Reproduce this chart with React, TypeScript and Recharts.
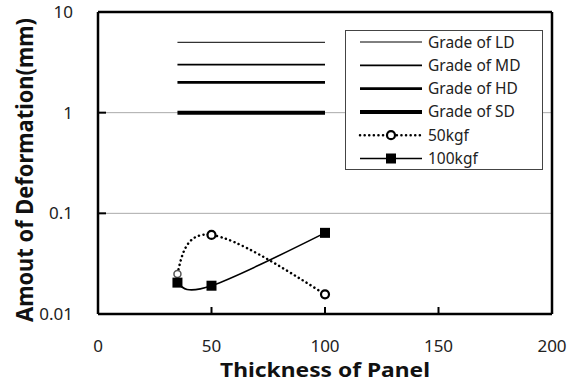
import { LineChart, Line, XAxis, YAxis, CartesianGrid, Legend, ReferenceLine } from "recharts"

// thickness of panel (x)
const gradeX = [35, 100]
const testX = [35, 50, 100]

// grade limits (mm)
const gradeLD = [5, 5]
const gradeMD = [3, 3]
const gradeHD = [2, 2]
const gradeSD = [1, 1]

// measured deformation (mm)
const load50 = [0.025, 0.061, 0.0157]
const load100 = [0.0205, 0.0191, 0.064]

const xTicks = [0, 50, 100, 150, 200]
const yTicks = [0.01, 0.1, 1, 10]

const toPoints = (xs: number[], ys: number[]) => xs.map((x, i) => ({ x, y: ys[i] }))

const FONT = "'Noto Sans', 'Open Sans', sans-serif"

const grades = [
  { name: "Grade of LD", values: gradeLD, width: 1 },
  { name: "Grade of MD", values: gradeMD, width: 1.7 },
  { name: "Grade of HD", values: gradeHD, width: 2.6 },
  { name: "Grade of SD", values: gradeSD, width: 4 },
]

const XTick = (props: any) => {
  const { x, y, payload } = props
  const v = payload.value
  return (
    <g>
      {v > 0 && v < 200 && <line x1={x} x2={x} y1={y} y2={y - 7} stroke="#000" strokeWidth={2} />}
      <text x={x} y={y + 38} textAnchor="middle" fontSize={17} fontFamily={FONT} fill="#222">
        {v}
      </text>
    </g>
  )
}

const YTick = (props: any) => {
  const { x, y, payload } = props
  const v = payload.value
  return (
    <g>
      {v > 0.01 && v < 10 && <line x1={x} x2={x + 8} y1={y} y2={y} stroke="#000" strokeWidth={2} />}
      <text x={x - 25} y={y + 6} textAnchor="end" fontSize={17} fontFamily={FONT} fill="#222">
        {v}
      </text>
    </g>
  )
}

const Square = (props: any) => {
  const { cx, cy } = props
  if (cx == null || cy == null) return null
  return <rect x={cx - 5} y={cy - 5} width={10} height={10} fill="#000" />
}

const Circle = (props: any) => {
  const { cx, cy, index } = props
  if (cx == null || cy == null) return null
  return (
    <circle
      cx={cx}
      cy={cy}
      r={index === 0 ? 3.5 : 4}
      fill="#fff"
      stroke={index === 0 ? "#555" : "#000"}
      strokeWidth={index === 0 ? 1.5 : 2.2}
    />
  )
}

const LegendBox = () => {
  const rowH = 23.3
  return (
    <svg width={198} height={140} style={{ display: "block" }}>
      <rect x={0.5} y={0.5} width={197} height={139} fill="#fff" stroke="#444" strokeWidth={1} />
      {grades.map((g, i) => (
        <g key={g.name}>
          <line x1={15} x2={77} y1={12 + i * rowH} y2={12 + i * rowH} stroke="#000" strokeWidth={g.width} />
          <text x={83} y={12 + i * rowH + 5.5} fontSize={15.5} fontFamily={FONT} fill="#222">
            {g.name}
          </text>
        </g>
      ))}
      <line x1={15} x2={77} y1={12 + 4 * rowH} y2={12 + 4 * rowH} stroke="#000" strokeWidth={2.5} strokeDasharray="0.1 4.5" strokeLinecap="round" />
      <circle cx={46} cy={12 + 4 * rowH} r={4} fill="#fff" stroke="#000" strokeWidth={2.2} />
      <text x={83} y={12 + 4 * rowH + 5.5} fontSize={15.5} fontFamily={FONT} fill="#222">50kgf</text>
      <line x1={15} x2={77} y1={12 + 5 * rowH} y2={12 + 5 * rowH} stroke="#000" strokeWidth={1.5} />
      <rect x={41} y={12 + 5 * rowH - 5} width={10} height={10} fill="#000" />
      <text x={83} y={12 + 5 * rowH + 5.5} fontSize={15.5} fontFamily={FONT} fill="#222">100kgf</text>
    </svg>
  )
}

export default function App() {
  return (
    <div style={{ position: "absolute", left: 0, top: 0, width: 579, height: 383, background: "#fff" }}>
      <LineChart width={579} height={383} margin={{ top: 12, right: 27, bottom: 0, left: 0 }}>
        <CartesianGrid horizontal vertical={false} stroke="#aaa" strokeWidth={1} />
        <XAxis
          type="number"
          dataKey="x"
          domain={[0, 200]}
          ticks={xTicks}
          height={69}
          tickSize={0}
          tickMargin={0}
          tick={<XTick />}
          axisLine={{ stroke: "#000", strokeWidth: 2.5 }}
          allowDataOverflow
          label={() => (
            <text x={325} y={377} textAnchor="middle" fontSize={20} fontWeight="bold" fontFamily={FONT} fill="#111" textLength={210} lengthAdjust="spacingAndGlyphs">
              Thickness of Panel
            </text>
          )}
        />
        <YAxis
          type="number"
          dataKey="y"
          scale="log"
          domain={[0.01, 10]}
          ticks={yTicks}
          width={98}
          tickSize={0}
          tickMargin={0}
          tick={<YTick />}
          axisLine={{ stroke: "#000", strokeWidth: 2.5 }}
          allowDataOverflow
          label={() => (
            <text x={33} y={170} transform="rotate(-90 33 170)" textAnchor="middle" fontSize={23} fontWeight="bold" fontFamily={FONT} fill="#111" textLength={304} lengthAdjust="spacingAndGlyphs">
              Amout of Deformation(mm)
            </text>
          )}
        />
        <ReferenceLine y={10} stroke="#000" strokeWidth={2.5} />
        <ReferenceLine x={200} stroke="#000" strokeWidth={2.5} />
        {grades.map((g) => (
          <Line
            key={g.name}
            data={toPoints(gradeX, g.values)}
            dataKey="y"
            name={g.name}
            stroke="#000"
            strokeWidth={g.width}
            dot={false}
            isAnimationActive={false}
          />
        ))}
        <Line
          data={toPoints(testX, load50)}
          dataKey="y"
          name="50kgf"
          type="natural"
          stroke="#000"
          strokeWidth={2.5}
          strokeDasharray="0.1 4.5"
          strokeLinecap="round"
          dot={<Circle />}
          isAnimationActive={false}
        />
        <Line
          data={toPoints(testX, load100)}
          dataKey="y"
          name="100kgf"
          type="natural"
          stroke="#000"
          strokeWidth={1.6}
          dot={<Square />}
          isAnimationActive={false}
        />
        <Legend
          layout="horizontal"
          verticalAlign="middle"
          align="center"
          content={() => <LegendBox />}
          wrapperStyle={{ left: 345, top: 30, width: 198, height: 140 }}
        />
      </LineChart>
    </div>
  )
}
